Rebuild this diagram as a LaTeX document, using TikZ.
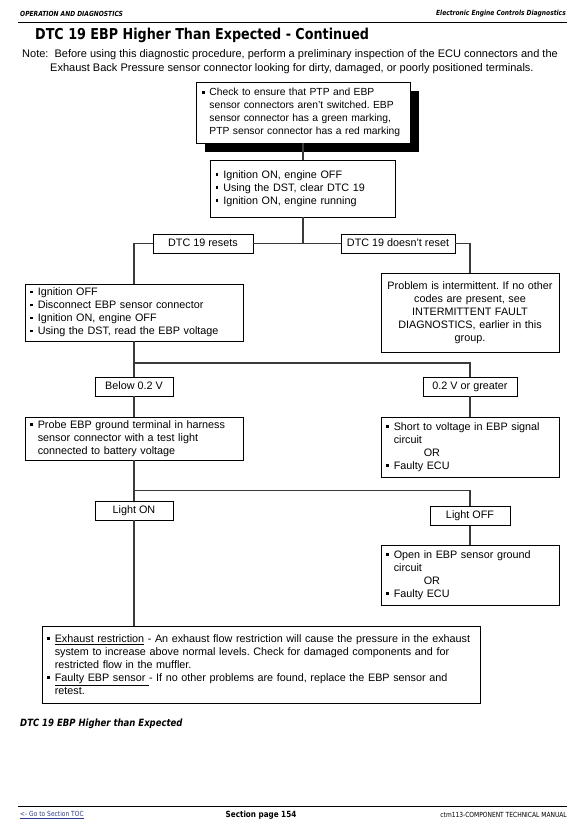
\documentclass[tikz,border=0pt]{standalone}
\usepackage{fontspec}
\setmainfont{Liberation Sans}
\newfontfamily\vfont{DejaVu Sans}[FakeStretch=0.85]
\usetikzlibrary{shadows}
\definecolor{linec}{HTML}{3A3A3A}
\definecolor{linkc}{HTML}{2B3A8C}
\newcommand{\bul}{\makebox[0.72em][l]{\raisebox{0.22em}{\rule{0.25em}{0.25em}}}}
\newcommand{\ind}{\hspace*{0.72em}}
\newcommand{\tline}[1]{\mbox{#1}}
\frenchspacing
\tikzset{
  box/.style={draw=black, line width=0.7pt, fill=white, inner xsep=5pt, inner ysep=2pt,
    font=\fontsize{10.8}{13}\selectfont\frenchspacing, align=left},
  lbl/.style={draw=black, line width=0.7pt, fill=white, minimum height=19pt, inner sep=1pt,
    text height=7.8pt, text depth=2.2pt, font=\fontsize{10.8}{13}\selectfont},
  conn/.style={draw=linec, line width=1.1pt},
  hdr/.style={font=\vfont\bfseries\itshape\fontsize{7}{8}\selectfont, inner sep=0pt}
}
\begin{document}
\begin{tikzpicture}[x=1pt,y=-1pt]
\useasboundingbox (0,0) rectangle (585,833);
% header
\node[hdr, anchor=west] (h1) at (20,14) {OPERATION AND DIAGNOSTICS};
\node[hdr, anchor=east] (h2) at (566,14) {Electronic Engine Controls Diagnostics};
\draw[line width=0.8pt] (18,22) -- (567,22);
\node[anchor=west, inner sep=0pt, font=\vfont\bfseries\fontsize{15}{16}\selectfont] (title) at (35,35) {DTC 19 EBP Higher Than Expected - Continued};
\node[anchor=west, inner sep=0pt, font=\fontsize{11}{13}\selectfont] (note1) at (22,55) {Note:\ \ Before using this diagnostic procedure, perform a preliminary inspection of the ECU connectors and the};
\node[anchor=west, inner sep=0pt, font=\fontsize{11}{13}\selectfont] (note2) at (50,69) {Exhaust Back Pressure sensor connector looking for dirty, damaged, or poorly positioned terminals.};

% boxes
\node[box, inner xsep=6pt, text width=202pt, minimum height=61pt, font=\fontsize{10.3}{12.8}\selectfont\frenchspacing,
  drop shadow={opacity=1, fill=black, shadow xshift=9pt, shadow yshift=-9pt}] (b1) at (303,112.5)
  {\tline{\bul Check to ensure that PTP and EBP}\\\tline{\ind sensor connectors aren't switched. EBP}\\\tline{\ind sensor connector has a green marking,}\\\tline{\ind PTP sensor connector has a red marking}};
\node[box, text width=175pt, minimum height=57pt] (b2) at (303,188.5)
  {\tline{\bul Ignition ON, engine OFF}\\\tline{\bul Using the DST, clear DTC 19}\\\tline{\bul Ignition ON, engine running}};
\node[lbl, minimum width=100pt] (l1) at (203,243.5) {DTC 19 resets};
\node[lbl, minimum width=114pt] (l2) at (398,243.5) {DTC 19 doesn't reset};
\node[box, text width=208pt, minimum height=57pt] (b3) at (134,312.5)
  {\tline{\bul Ignition OFF}\\\tline{\bul Disconnect EBP sensor connector}\\\tline{\bul Ignition ON, engine OFF}\\\tline{\bul Using the DST, read the EBP voltage}};
\node[box, align=center, text width=168pt, minimum height=79pt] (b4) at (470,312.5)
  {\tline{Problem is intermittent. If no other}\\\tline{codes are present, see}\\\tline{INTERMITTENT FAULT}\\\tline{DIAGNOSTICS, earlier in this}\\\tline{group.}};
\node[lbl, minimum width=78pt] (l3) at (134,386.5) {Below 0.2 V};
\node[lbl, minimum width=94pt] (l4) at (470,386.5) {0.2 V or greater};
\node[box, text width=208pt, minimum height=43pt] (b5) at (134,438.5)
  {\tline{\bul Probe EBP ground terminal in harness}\\\tline{\ind sensor connector with a test light}\\\tline{\ind connected to battery voltage}};
\node[box, text width=168pt, minimum height=60pt] (b6) at (470,447)
  {\tline{\bul Short to voltage in EBP signal}\\\tline{\ind circuit}\\\tline{\hspace*{3.5em}OR}\\\tline{\bul Faulty ECU}};
\node[lbl, minimum width=78pt] (l5) at (134,510.5) {Light ON};
\node[lbl, minimum width=80pt] (l6) at (470,516) {Light OFF};
\node[box, text width=168pt, minimum height=60pt] (b7) at (470,575)
  {\tline{\bul Open in EBP sensor ground}\\\tline{\ind circuit}\\\tline{\hspace*{3.5em}OR}\\\tline{\bul Faulty ECU}};
\node[box, text width=428pt, minimum height=77pt] (b8) at (261,664.5)
  {\tline{\bul \underline{Exhaust restriction} - An exhaust flow restriction will cause the pressure in the exhaust}\\\tline{\ind system to increase above normal levels. Check for damaged components and for}\\\tline{\ind restricted flow in the muffler.}\\\tline{\bul \underline{Faulty EBP sensor\ }- If no other problems are found, replace the EBP sensor and}\\\tline{\ind retest.}};

% connectors
\coordinate (j1) at (303,243.5);
\coordinate (j2) at (134,363);
\coordinate (j3) at (134,490.5);
\coordinate (b8top) at (134,626);
\draw[conn] (b1.south) -- (b2.north);
\draw[conn] (b2.south) -- (j1);
\draw[conn] (j1) -- (l1.east);
\draw[conn] (j1) -- (l2.west);
\draw[conn] (l1.west) -| (b3.north);
\draw[conn] (l2.east) -| (b4.north);
\draw[conn] (b3.south) -- (l3.north);
\draw[conn] (j2) -| (l4.north);
\draw[conn] (l3.south) -- (b5.north);
\draw[conn] (l4.south) -- (b6.north);
\draw[conn] (b5.south) -- (l5.north);
\draw[conn] (j3) -| (l6.north);
\draw[conn] (l6.south) -- (b7.north);
\draw[conn] (l5.south) -- (b8top);

% caption and footer
\node[anchor=west, inner sep=0pt, font=\vfont\bfseries\itshape\fontsize{10}{11}\selectfont] (cap) at (20,724) {DTC 19 EBP Higher than Expected};
\draw[line width=0.8pt] (18,806) -- (567,806);
\node[anchor=west, inner sep=0pt, text=linkc, font=\vfont\fontsize{7}{8}\selectfont] (toc) at (20,815) {\underline{<- Go to Section TOC}};
\node[inner sep=0pt, font=\vfont\bfseries\fontsize{8.5}{9}\selectfont] (pg) at (261,815) {Section page 154};
\node[anchor=east, inner sep=0pt, font=\vfont\fontsize{7}{8}\selectfont] (man) at (567,815) {ctm113-COMPONENT TECHNICAL MANUAL};
\end{tikzpicture}
\end{document}
